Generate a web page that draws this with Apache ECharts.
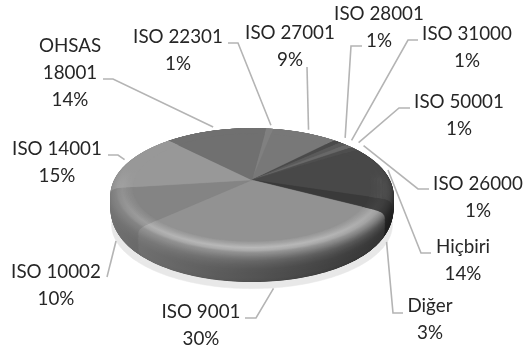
<!DOCTYPE html>
<html>
<head>
<meta charset="utf-8">
<style>html,body{margin:0;padding:0;background:#fff}#c{width:526px;height:353px}</style>
<script src="https://cdn.jsdelivr.net/npm/echarts@6/dist/echarts.min.js"></script>
</head>
<body>
<div id="c"></div>
<script>
// Standards held by the surveyed organisations, clockwise from the 7 degree mark.
const categories = ['ISO 22301', 'ISO 27001', 'ISO 28001', 'ISO 31000', 'ISO 50001', 'ISO 26000',
  'Hiçbiri', 'Diğer', 'ISO 9001', 'ISO 10002', 'ISO 14001', 'OHSAS\n18001'];
const shares = [1, 9, 1, 1, 1, 1, 14, 3, 30, 10, 15, 14];

// Grey level of each slice's top face.
const greys = [128, 120, 74, 90, 104, 78, 72, 58, 146, 132, 152, 112];

// Text centre, elbow points and rim offset for each leader line.
const labelLayout = [
  {x: 178, y: 50, path: [[228, 43], [238, 43]], rim: 1.03, drop: 0},
  {x: 290, y: 46, path: [[307, 67]], rim: 1.03, drop: 0},
  {x: 379, y: 27, path: [[362, 46], [351, 46]], rim: 1.06, drop: 0},
  {x: 467, y: 47, path: [[418, 40], [408, 40]], rim: 1.06, drop: 0},
  {x: 459, y: 115, path: [[410, 108], [399, 108]], rim: 1.07, drop: 0},
  {x: 478, y: 197, path: [[429, 189], [418, 189]], rim: 1.06, drop: 0},
  {x: 463, y: 260, path: [[431, 253], [421, 253]], rim: 1.0, drop: -2},
  {x: 430, y: 319, path: [[403, 313], [393, 313]], rim: 0.98, drop: 36},
  {x: 201, y: 325, path: [[245, 318], [256, 318]], rim: 1.0, drop: 34},
  {x: 56, y: 285, path: [[107, 277]], rim: 1.0, drop: 32},
  {x: 57, y: 162, path: [[108, 155], [118, 155]], rim: 1.02, drop: 0},
  {x: 70, y: 73, path: [[103, 79], [113, 79]], rim: 1.03, drop: 0}
];

// Perspective disc: centre of the top face and its projection constants.
const disc = {cx: 252, cy: 180, a: 140, b: 62.8, k: 0.163, start: 7};
const wallDepth = 31;
const rad = Math.PI / 180;

function project(deg, r, drop) {
  const x = r * Math.sin(deg * rad);
  const y = -r * Math.cos(deg * rad);
  const w = 1 - disc.k * y;
  return [disc.cx + disc.a * x / w, disc.cy + disc.b * y / w + drop];
}

// Rim profile from the wall's foot, up the wall and over the shoulder to the flat face.
const rimStops = [
  {r: 0.955, d: wallDepth, t: -1.1},
  {r: 0.975, d: 28, t: -1.04},
  {r: 0.99, d: 24, t: -1},
  {r: 0.997, d: 20, t: -1},
  {r: 1, d: 15, t: -0.97},
  {r: 1, d: 11, t: -0.86},
  {r: 1, d: 6, t: -0.66},
  {r: 0.995, d: 3.2, t: -0.42},
  {r: 0.985, d: 1.6, t: -0.2},
  {r: 0.97, d: 0.7, t: -0.02},
  {r: 0.95, d: 0.2, t: 0.14},
  {r: 0.92, d: 0, t: 0.22},
  {r: 0.88, d: 0, t: 0.1},
  {r: 0.84, d: 0, t: 0}
];

// Subdivide the stops so the shading reads as a continuous gradient.
const profile = [];
rimStops.forEach((s, i) => {
  const nx = rimStops[i + 1];
  if (!nx) { profile.push(s); return; }
  for (let q = 0; q < 4; q++) {
    const f = q / 4;
    profile.push({
      r: s.r + (nx.r - s.r) * f,
      d: s.d + (nx.d - s.d) * f,
      t: s.t + (nx.t - s.t) * f
    });
  }
});

function grey(v) {
  const g = Math.max(0, Math.min(255, Math.round(v)));
  return 'rgb(' + g + ',' + g + ',' + g + ')';
}

function shade(base, t, deg) {
  const sx = Math.sin(deg * rad);
  const cy = -Math.cos(deg * rad);
  if (t >= 0) {
    // Highlight follows the front of the shoulder.
    return base * (1 + t * Math.max(0, cy + 0.2));
  }
  const wall = (122 - 76 * (sx + 1) / 2) * (0.35 + 0.65 * base / 145);
  return base + (wall - base) * Math.min(1, -t) * (t < -1 ? -t : 1);
}

// Horizontal gradient across one slice at one level of the rim profile.
function levelFill(base, level, a0, a1) {
  const samples = [];
  const n = Math.max(2, Math.ceil((a1 - a0) / 5));
  for (let j = 0; j <= n; j++) {
    const deg = a0 + (a1 - a0) * j / n;
    samples.push({x: project(deg, level.r, level.d)[0], v: shade(base, level.t, deg)});
  }
  samples.sort((p, q) => p.x - q.x);
  const minX = samples[0].x;
  const maxX = samples[samples.length - 1].x;
  const span = Math.max(0.01, maxX - minX);
  return {
    type: 'linear', x: minX, y: 0, x2: minX + span, y2: 0, global: true,
    colorStops: samples.map(s => ({offset: (s.x - minX) / span, color: grey(s.v)}))
  };
}

function sector(a0, a1, r, d) {
  const n = Math.max(2, Math.ceil((a1 - a0) / 1.5));
  const pts = [project(a0, 0, d)];
  for (let j = 0; j <= n; j++) pts.push(project(a0 + (a1 - a0) * j / n, r, d));
  return pts;
}

function renderSlice(params, api) {
  const idx = params.dataIndex;
  const total = shares.reduce((s, v) => s + v, 0);
  let before = 0;
  for (let i = 0; i < idx; i++) before += shares[i];
  const a0 = disc.start + before / total * 360;
  const a1 = a0 + api.value(0) / total * 360;
  const base = greys[idx];
  const children = [];

  // Soft ground shadow below the disc.
  children.push({
    type: 'polygon', z2: 0,
    shape: {points: sector(a0, a1, 0.99, wallDepth + 3.5)},
    style: {fill: '#e8e8e8', stroke: '#e8e8e8', lineWidth: 0.5}
  });

  // Wall and shoulder, painted bottom-up as nested sectors.
  profile.forEach((level, p) => {
    children.push({
      type: 'polygon', z2: 10 + p,
      shape: {points: sector(a0, a1, level.r, level.d)},
      style: {fill: levelFill(base, level, a0, a1)}
    });
  });

  // Flat part of the top face.
  children.push({
    type: 'polygon', z2: 80,
    shape: {points: sector(a0, a1, profile[profile.length - 1].r, 0)},
    style: {fill: grey(base), stroke: grey(base), lineWidth: 0.4}
  });

  // Leader line from the rim to the label, then the label itself.
  const lay = labelLayout[idx];
  const anchor = project((a0 + a1) / 2, lay.rim, lay.drop);
  children.push({
    type: 'polyline',
    z2: 90,
    shape: {points: [anchor].concat(lay.path.slice().reverse())},
    style: {fill: 'none', stroke: '#b4b4b4', lineWidth: 1.6}
  });
  children.push({
    type: 'text',
    z2: 95,
    style: {
      x: lay.x,
      y: lay.y,
      text: categories[idx] + '\n' + api.value(0) + '%',
      fill: '#262626',
      font: '18.8px Lato, "Open Sans", sans-serif',
      lineHeight: 27,
      align: 'center',
      verticalAlign: 'middle'
    }
  });
  return {type: 'group', children: children};
}

const chart = echarts.init(document.getElementById('c'), null, {renderer: 'canvas'});
chart.setOption({
  backgroundColor: '#ffffff',
  animation: false,
  series: [{
    type: 'custom',
    coordinateSystem: 'none',
    silent: true,
    renderItem: renderSlice,
    data: shares.map(v => [v])
  }]
});
</script>
</body>
</html>
